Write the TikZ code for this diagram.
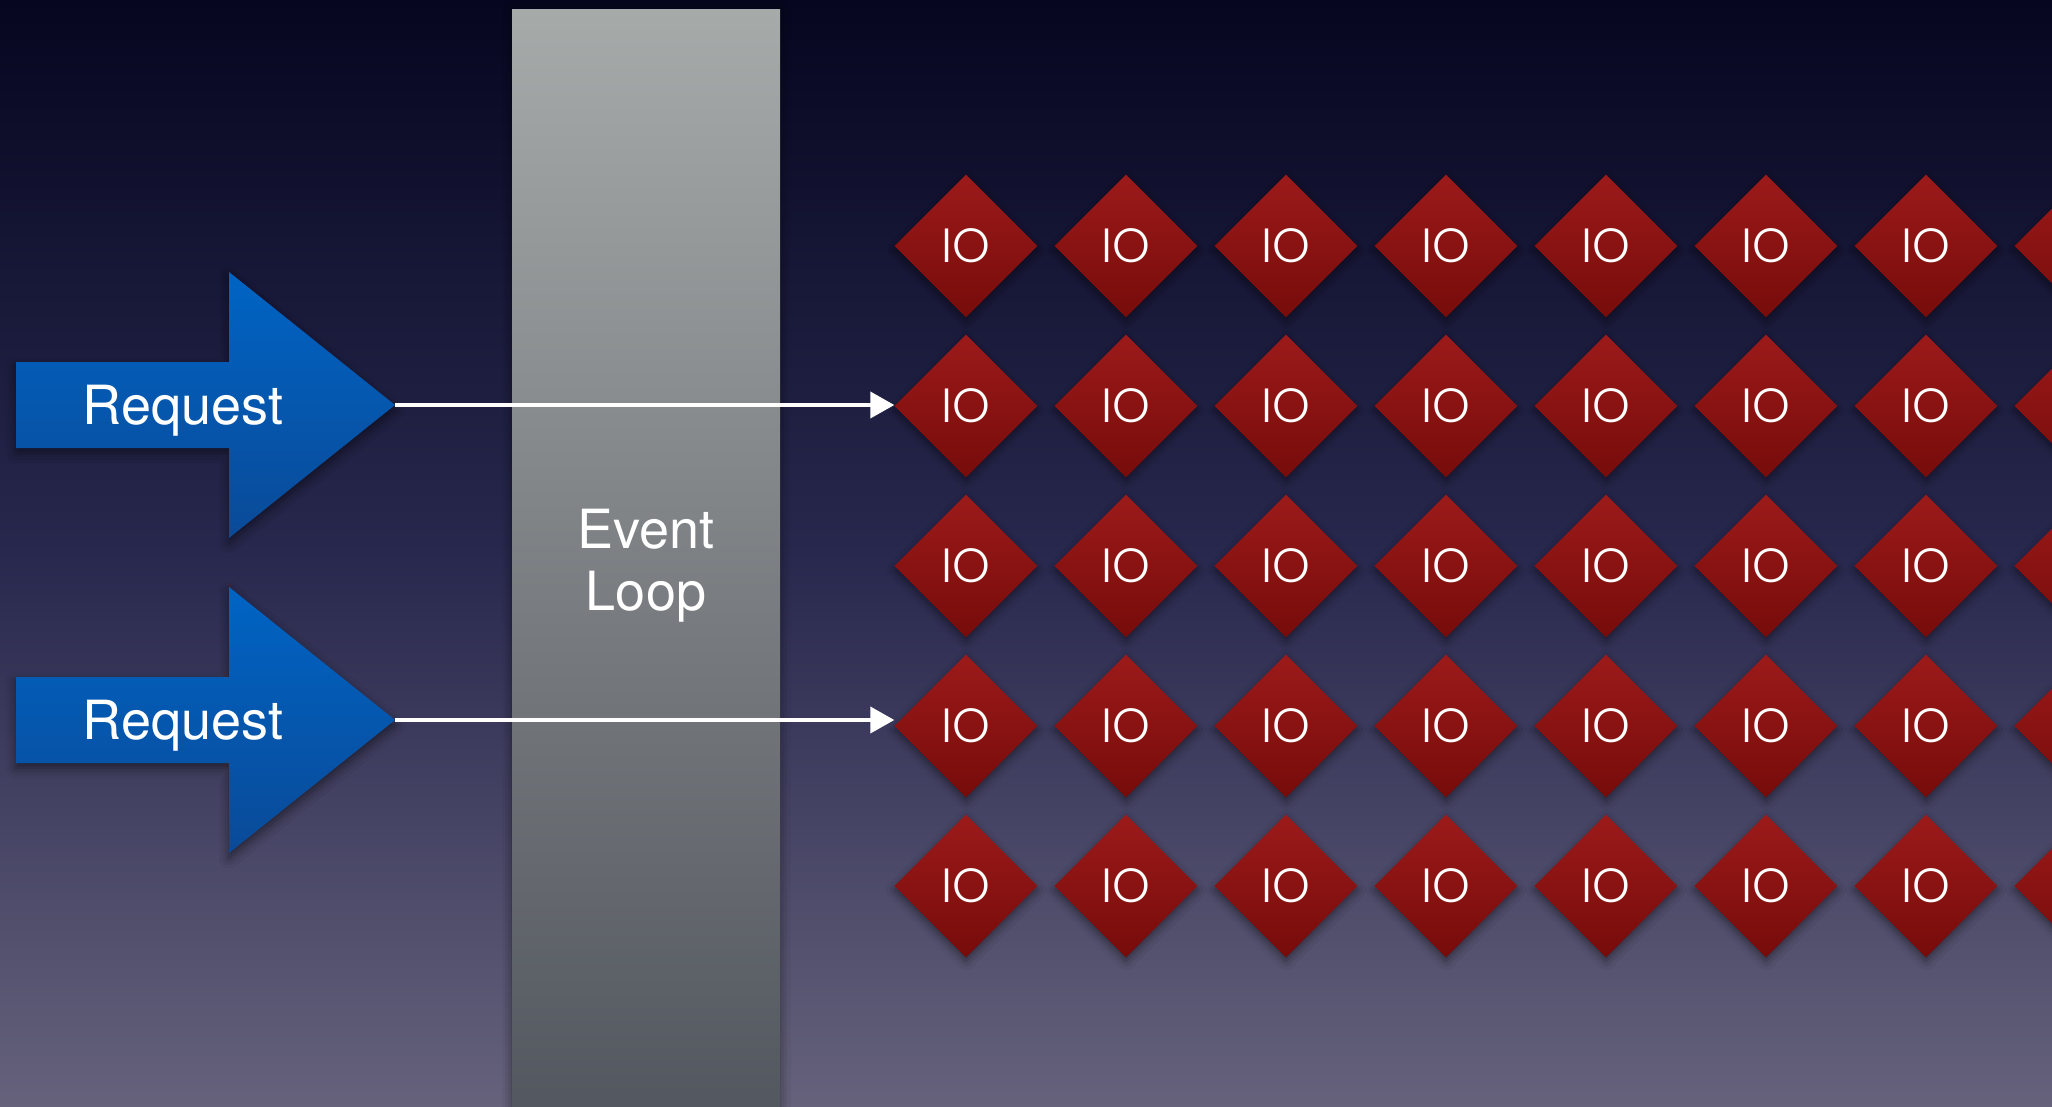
\documentclass[tikz,border=0pt]{standalone}
\usepackage{fontspec}
\setmainfont{TeX Gyre Heros}
\newfontfamily\iofont{Poppins}[UprightFont={* Light}]
\usetikzlibrary{shapes.geometric,shadows.blur,arrows.meta}
\definecolor{bgtop}{RGB}{6,6,32}
\definecolor{bgmid}{RGB}{40,40,78}
\definecolor{bgbot}{RGB}{102,98,124}
\definecolor{bartop}{RGB}{166,170,169}
\definecolor{barbot}{RGB}{82,86,94}
\definecolor{bluetop}{RGB}{0,100,196}
\definecolor{bluebot}{RGB}{10,74,152}
\definecolor{redtop}{RGB}{156,26,26}
\definecolor{redbot}{RGB}{118,12,10}
\tikzset{
  iobox/.style={diamond, minimum width=143pt, minimum height=143pt, inner sep=0pt,
    top color=redtop, bottom color=redbot, draw=none,
    blur shadow={shadow xshift=0pt, shadow yshift=-4pt, shadow blur radius=8pt, shadow opacity=45},
    text=white, font=\iofont\fontsize{48}{50}\selectfont},
  reqshape/.style={top color=bluetop, bottom color=bluebot, draw=none,
    blur shadow={shadow xshift=0pt, shadow yshift=-5pt, shadow blur radius=10pt, shadow opacity=50}},
  reqtext/.style={text=white, font=\fontsize{54}{58}\selectfont, inner sep=0pt},
  flow/.style={draw=white, line width=4pt, -{Triangle[length=24pt,width=26pt]}}
}
\begin{document}
\begin{tikzpicture}[x=1pt,y=-1pt]
\useasboundingbox (0,0) rectangle (2052,1107);
\clip (0,0) rectangle (2052,1107);
% background
\shade[top color=bgtop, bottom color=bgbot, middle color=bgmid] (0,0) rectangle (2052,1107);
% event loop bar
\shade[top color=bartop, bottom color=barbot,
  blur shadow={shadow xshift=0pt, shadow yshift=0pt, shadow blur radius=10pt, shadow opacity=50}]
  (512,10) rectangle (780,1120);
\node[text=white, font=\fontsize{54}{62}\selectfont, align=center] (loop) at (646,566) {Event\\Loop};
% request arrows
\path[reqshape] (16,362) -- (229,362) -- (229,272) -- (395,405) -- (229,538) -- (229,448) -- (16,448) -- cycle;
\node[reqtext] (req1) at (183,411) {Request};
\coordinate (tip1) at (395,405);
\path[reqshape] (16,677) -- (229,677) -- (229,587) -- (395,720) -- (229,853) -- (229,763) -- (16,763) -- cycle;
\node[reqtext] (req2) at (183,726) {Request};
\coordinate (tip2) at (395,720);
% IO grid
\foreach \r/\yy in {1/246,2/406,3/566,4/726,5/886}{
  \foreach \c in {1,...,7}{
    \node[iobox] (io-\r-\c) at ({966+160*(\c-1)},\yy) {IO};
  }
  % eighth column: only its left part lies inside the picture, its label lies beyond the edge
  \node[iobox] (io-\r-8) at (2086,\yy) {};
}
% connectors
\draw[flow] (tip1) -- (tip1 -| io-2-1.west);
\draw[flow] (tip2) -- (tip2 -| io-4-1.west);
\end{tikzpicture}
\end{document}
